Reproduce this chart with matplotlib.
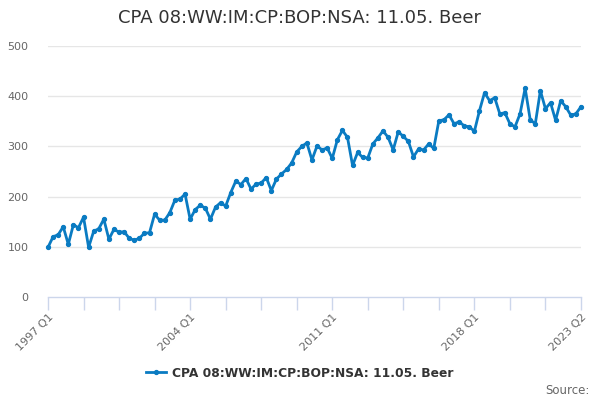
import matplotlib
matplotlib.use("Agg")
import matplotlib.pyplot as plt
from matplotlib.lines import Line2D

plt.rcParams['font.family'] = ['DejaVu Sans']

title = "CPA 08:WW:IM:CP:BOP:NSA: 11.05. Beer"
series_name = "CPA 08:WW:IM:CP:BOP:NSA: 11.05. Beer"
start_year = 1997
values = [99, 120, 124, 140, 105, 144, 138, 159, 99, 131, 136, 155, 115, 135, 129, 130,
          117, 113, 117, 127, 128, 165, 153, 153, 168, 193, 195, 205, 155, 174, 183, 177,
          155, 179, 188, 181, 208, 231, 224, 236, 215, 225, 227, 238, 212, 235, 245, 254,
          267, 289, 300, 307, 273, 301, 293, 297, 276, 313, 332, 318, 262, 288, 278, 277,
          305, 317, 331, 318, 293, 329, 320, 310, 279, 295, 293, 305, 296, 351, 353, 363,
          345, 349, 341, 339, 330, 371, 407, 391, 397, 365, 367, 345, 339, 365, 416, 353,
          345, 411, 375, 387, 352, 391, 379, 362, 365, 379]
categories = [f"{start_year + i // 4} Q{i % 4 + 1}" for i in range(len(values))]
y_ticks = [0, 100, 200, 300, 400, 500]

line_color = '#0a7bc2'
grid_color = '#e6e6e6'
axis_color = '#ccd6eb'
label_color = '#666666'

fig = plt.figure(figsize=(6, 4), dpi=100)
ax = fig.add_axes([0.08, 0.2575, 0.8883, 0.6275])
x = list(range(len(values)))
ax.plot(x, values, color=line_color, lw=2, marker='o', ms=2.8, zorder=3, clip_on=False)

ax.set_xlim(0, len(values) - 1)
ax.set_ylim(0, 500)
ax.set_yticks(y_ticks)
ax.set_yticklabels([str(v) for v in y_ticks], color=label_color, fontsize=8)
ax.tick_params(axis='y', length=0, pad=14)
for yv in y_ticks[1:]:
    ax.axhline(yv, color=grid_color, lw=1, zorder=1)

tick_pos = list(range(0, len(values), 7))
ax.set_xticks(tick_pos)
label_idx = {0, 28, 56, 84, len(values) - 1}
ax.set_xticklabels([categories[i] if i in label_idx else '' for i in tick_pos],
                   rotation=45, ha='right', rotation_mode='anchor', color=label_color, fontsize=8)
ax.tick_params(axis='x', length=9, color=axis_color, width=1, pad=2)

for s in ['top', 'right', 'left']:
    ax.spines[s].set_visible(False)
ax.spines['bottom'].set_color(axis_color)
ax.spines['bottom'].set_linewidth(1)
ax.spines['bottom'].set_zorder(2)

fig.text(0.5, 0.955, title, ha='center', va='center', fontsize=13, color='#333333')

handle = Line2D([], [], color=line_color, lw=2, marker='o', ms=2.8)
fig.legend([handle], [series_name], loc='center', bbox_to_anchor=(0.5, 0.067),
           frameon=False, prop={'weight': 'bold', 'size': 8.8}, labelcolor='#333333',
           handlelength=1.6, handletextpad=0.5)
fig.text(0.982, 0.023, "Source:", ha='right', va='center', fontsize=8.5, color=label_color)

fig.savefig("out.png", dpi=100)
